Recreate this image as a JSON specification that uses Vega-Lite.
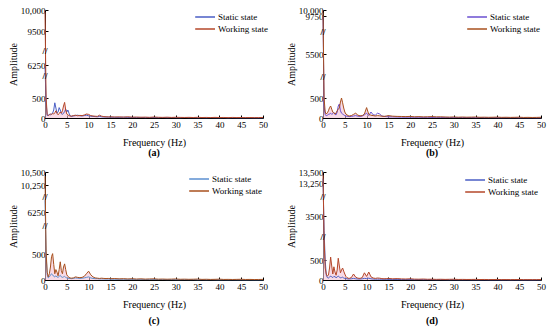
{
  "$schema": "https://vega.github.io/schema/vega-lite/v6.json",
  "background": "white",
  "padding": {"left": 8, "top": 6, "right": 2, "bottom": 2},
  "columns": 2,
  "spacing": {"row": 10, "column": 17},
  "resolve": {"scale": {"color": "independent"}, "legend": {"color": "independent"}},
  "config": {
    "font": "Liberation Serif",
    "view": {"stroke": null},
    "axis": {"labelFont": "Liberation Serif", "titleFont": "Liberation Serif", "labelFontSize": 9, "titleFontSize": 10, "titleFontWeight": "normal", "labelColor": "black", "titleColor": "black", "domainColor": "black", "tickColor": "black", "grid": false, "tickSize": -3, "labelPadding": 3, "titlePadding": 2, "labelOverlap": false},
    "axisX": {"labelFlush": false, "titlePadding": 8, "labelPadding": 5},
    "title": {"font": "Liberation Serif", "fontSize": 10, "fontWeight": "bold", "color": "black", "orient": "bottom", "offset": 1},
    "legend": {"orient": "none", "title": null, "symbolType": "M-2.3,0H1", "symbolSize": 144, "symbolStrokeWidth": 1.5, "labelFont": "Liberation Serif", "labelFontSize": 9, "labelColor": "black", "rowPadding": 0, "padding": 0, "labelOffset": 2}
  },
  "datasets": {
    "a": [
      {"f": 0, "s": 6000, "w": 9950}, {"f": 0.25, "s": 400, "w": 600}, {"f": 0.5, "s": 60, "w": 90}, {"f": 0.75, "s": 70, "w": 60},
      {"f": 1, "s": 90, "w": 80}, {"f": 1.25, "s": 80, "w": 100}, {"f": 1.5, "s": 100, "w": 90}, {"f": 1.75, "s": 120, "w": 110},
      {"f": 2, "s": 200, "w": 100}, {"f": 2.25, "s": 380, "w": 130}, {"f": 2.5, "s": 250, "w": 180}, {"f": 2.75, "s": 120, "w": 120},
      {"f": 3, "s": 150, "w": 80}, {"f": 3.25, "s": 260, "w": 110}, {"f": 3.5, "s": 200, "w": 150}, {"f": 3.75, "s": 110, "w": 120},
      {"f": 4, "s": 90, "w": 180}, {"f": 4.25, "s": 120, "w": 300}, {"f": 4.5, "s": 160, "w": 390}, {"f": 4.75, "s": 220, "w": 200},
      {"f": 5, "s": 150, "w": 100}, {"f": 5.25, "s": 200, "w": 80}, {"f": 5.5, "s": 120, "w": 60}, {"f": 5.75, "s": 60, "w": 50},
      {"f": 6, "s": 40, "w": 45}, {"f": 6.5, "s": 50, "w": 60}, {"f": 7, "s": 60, "w": 70}, {"f": 7.5, "s": 70, "w": 55},
      {"f": 8, "s": 55, "w": 65}, {"f": 8.5, "s": 50, "w": 60}, {"f": 9, "s": 60, "w": 75}, {"f": 9.5, "s": 70, "w": 100},
      {"f": 10, "s": 55, "w": 90}, {"f": 10.5, "s": 45, "w": 60}, {"f": 11, "s": 40, "w": 50}, {"f": 11.5, "s": 35, "w": 45},
      {"f": 12, "s": 30, "w": 40}, {"f": 12.5, "s": 40, "w": 70}, {"f": 13, "s": 30, "w": 45}, {"f": 13.5, "s": 25, "w": 35},
      {"f": 14, "s": 25, "w": 30}, {"f": 14.5, "s": 22, "w": 28}, {"f": 15, "s": 20, "w": 30}, {"f": 16, "s": 18, "w": 25},
      {"f": 17, "s": 15, "w": 28}, {"f": 18, "s": 20, "w": 22}, {"f": 19, "s": 14, "w": 30}, {"f": 20, "s": 16, "w": 20},
      {"f": 21, "s": 12, "w": 24}, {"f": 22, "s": 15, "w": 18}, {"f": 23, "s": 10, "w": 22}, {"f": 24, "s": 14, "w": 16},
      {"f": 25, "s": 12, "w": 25}, {"f": 26, "s": 10, "w": 18}, {"f": 27, "s": 13, "w": 15}, {"f": 28, "s": 9, "w": 20},
      {"f": 29, "s": 11, "w": 14}, {"f": 30, "s": 10, "w": 18}, {"f": 31, "s": 8, "w": 15}, {"f": 32, "s": 12, "w": 13},
      {"f": 33, "s": 9, "w": 16}, {"f": 34, "s": 10, "w": 12}, {"f": 35, "s": 8, "w": 17}, {"f": 36, "s": 9, "w": 12},
      {"f": 37, "s": 7, "w": 14}, {"f": 38, "s": 10, "w": 11}, {"f": 39, "s": 8, "w": 15}, {"f": 40, "s": 7, "w": 12},
      {"f": 41, "s": 9, "w": 13}, {"f": 42, "s": 6, "w": 10}, {"f": 43, "s": 8, "w": 14}, {"f": 44, "s": 7, "w": 11},
      {"f": 45, "s": 6, "w": 13}, {"f": 46, "s": 8, "w": 10}, {"f": 47, "s": 6, "w": 12}, {"f": 48, "s": 7, "w": 9},
      {"f": 49, "s": 5, "w": 11}, {"f": 50, "s": 6, "w": 14}
    ],
    "b": [
      {"f": 0, "s": 9700, "w": 9900}, {"f": 0.25, "s": 300, "w": 500}, {"f": 0.5, "s": 80, "w": 150}, {"f": 0.75, "s": 60, "w": 100},
      {"f": 1, "s": 70, "w": 130}, {"f": 1.25, "s": 90, "w": 180}, {"f": 1.5, "s": 100, "w": 260}, {"f": 1.75, "s": 120, "w": 300},
      {"f": 2, "s": 90, "w": 220}, {"f": 2.25, "s": 110, "w": 150}, {"f": 2.5, "s": 140, "w": 120}, {"f": 2.75, "s": 90, "w": 100},
      {"f": 3, "s": 80, "w": 130}, {"f": 3.25, "s": 150, "w": 180}, {"f": 3.5, "s": 300, "w": 220}, {"f": 3.75, "s": 350, "w": 250},
      {"f": 4, "s": 180, "w": 400}, {"f": 4.25, "s": 120, "w": 500}, {"f": 4.5, "s": 100, "w": 380}, {"f": 4.75, "s": 80, "w": 250},
      {"f": 5, "s": 60, "w": 150}, {"f": 5.25, "s": 50, "w": 100}, {"f": 5.5, "s": 45, "w": 80}, {"f": 5.75, "s": 40, "w": 60},
      {"f": 6, "s": 35, "w": 50}, {"f": 6.5, "s": 40, "w": 60}, {"f": 7, "s": 50, "w": 90}, {"f": 7.5, "s": 60, "w": 120},
      {"f": 8, "s": 45, "w": 70}, {"f": 8.5, "s": 40, "w": 55}, {"f": 9, "s": 50, "w": 60}, {"f": 9.5, "s": 80, "w": 100},
      {"f": 10, "s": 120, "w": 260}, {"f": 10.5, "s": 60, "w": 90}, {"f": 11, "s": 150, "w": 70}, {"f": 11.5, "s": 80, "w": 60},
      {"f": 12, "s": 70, "w": 50}, {"f": 12.5, "s": 120, "w": 60}, {"f": 13, "s": 100, "w": 55}, {"f": 13.5, "s": 50, "w": 45},
      {"f": 14, "s": 40, "w": 40}, {"f": 14.5, "s": 35, "w": 50}, {"f": 15, "s": 30, "w": 60}, {"f": 16, "s": 28, "w": 45},
      {"f": 17, "s": 25, "w": 40}, {"f": 18, "s": 22, "w": 38}, {"f": 19, "s": 20, "w": 35}, {"f": 20, "s": 22, "w": 40},
      {"f": 21, "s": 18, "w": 30}, {"f": 22, "s": 20, "w": 34}, {"f": 23, "s": 16, "w": 28}, {"f": 24, "s": 18, "w": 30},
      {"f": 25, "s": 15, "w": 35}, {"f": 26, "s": 17, "w": 28}, {"f": 27, "s": 14, "w": 30}, {"f": 28, "s": 15, "w": 25},
      {"f": 29, "s": 13, "w": 22}, {"f": 30, "s": 14, "w": 26}, {"f": 31, "s": 12, "w": 20}, {"f": 32, "s": 13, "w": 24},
      {"f": 33, "s": 11, "w": 20}, {"f": 34, "s": 12, "w": 22}, {"f": 35, "s": 10, "w": 25}, {"f": 36, "s": 11, "w": 18},
      {"f": 37, "s": 10, "w": 20}, {"f": 38, "s": 9, "w": 17}, {"f": 39, "s": 10, "w": 19}, {"f": 40, "s": 9, "w": 22},
      {"f": 41, "s": 8, "w": 16}, {"f": 42, "s": 9, "w": 18}, {"f": 43, "s": 8, "w": 15}, {"f": 44, "s": 9, "w": 17},
      {"f": 45, "s": 7, "w": 20}, {"f": 46, "s": 8, "w": 14}, {"f": 47, "s": 7, "w": 16}, {"f": 48, "s": 8, "w": 13},
      {"f": 49, "s": 6, "w": 15}, {"f": 50, "s": 7, "w": 18}
    ],
    "c": [
      {"f": 0, "s": 8000, "w": 10420}, {"f": 0.25, "s": 500, "w": 900}, {"f": 0.5, "s": 100, "w": 150}, {"f": 0.75, "s": 40, "w": 60},
      {"f": 1, "s": 60, "w": 120}, {"f": 1.25, "s": 90, "w": 250}, {"f": 1.5, "s": 120, "w": 450}, {"f": 1.75, "s": 100, "w": 550},
      {"f": 2, "s": 70, "w": 300}, {"f": 2.25, "s": 60, "w": 120}, {"f": 2.5, "s": 80, "w": 200}, {"f": 2.75, "s": 60, "w": 150},
      {"f": 3, "s": 50, "w": 80}, {"f": 3.25, "s": 70, "w": 200}, {"f": 3.5, "s": 90, "w": 350}, {"f": 3.75, "s": 60, "w": 180},
      {"f": 4, "s": 50, "w": 120}, {"f": 4.25, "s": 60, "w": 250}, {"f": 4.5, "s": 70, "w": 310}, {"f": 4.75, "s": 50, "w": 200},
      {"f": 5, "s": 40, "w": 100}, {"f": 5.25, "s": 35, "w": 70}, {"f": 5.5, "s": 30, "w": 50}, {"f": 5.75, "s": 30, "w": 40},
      {"f": 6, "s": 25, "w": 35}, {"f": 6.5, "s": 30, "w": 40}, {"f": 7, "s": 40, "w": 60}, {"f": 7.5, "s": 35, "w": 50},
      {"f": 8, "s": 30, "w": 45}, {"f": 8.5, "s": 35, "w": 50}, {"f": 9, "s": 40, "w": 70}, {"f": 9.5, "s": 50, "w": 120},
      {"f": 10, "s": 60, "w": 170}, {"f": 10.5, "s": 40, "w": 100}, {"f": 11, "s": 30, "w": 60}, {"f": 11.5, "s": 25, "w": 40},
      {"f": 12, "s": 25, "w": 35}, {"f": 12.5, "s": 20, "w": 30}, {"f": 13, "s": 22, "w": 35}, {"f": 13.5, "s": 20, "w": 30},
      {"f": 14, "s": 18, "w": 28}, {"f": 14.5, "s": 18, "w": 30}, {"f": 15, "s": 16, "w": 25}, {"f": 16, "s": 15, "w": 28},
      {"f": 17, "s": 14, "w": 22}, {"f": 18, "s": 15, "w": 25}, {"f": 19, "s": 12, "w": 20}, {"f": 20, "s": 13, "w": 24},
      {"f": 21, "s": 11, "w": 18}, {"f": 22, "s": 12, "w": 22}, {"f": 23, "s": 10, "w": 17}, {"f": 24, "s": 11, "w": 20},
      {"f": 25, "s": 10, "w": 22}, {"f": 26, "s": 9, "w": 16}, {"f": 27, "s": 10, "w": 18}, {"f": 28, "s": 8, "w": 15},
      {"f": 29, "s": 9, "w": 17}, {"f": 30, "s": 8, "w": 20}, {"f": 31, "s": 7, "w": 14}, {"f": 32, "s": 8, "w": 16},
      {"f": 33, "s": 7, "w": 13}, {"f": 34, "s": 8, "w": 15}, {"f": 35, "s": 6, "w": 18}, {"f": 36, "s": 7, "w": 12},
      {"f": 37, "s": 6, "w": 14}, {"f": 38, "s": 7, "w": 11}, {"f": 39, "s": 6, "w": 13}, {"f": 40, "s": 5, "w": 16},
      {"f": 41, "s": 6, "w": 11}, {"f": 42, "s": 5, "w": 12}, {"f": 43, "s": 6, "w": 10}, {"f": 44, "s": 5, "w": 12},
      {"f": 45, "s": 5, "w": 14}, {"f": 46, "s": 4, "w": 10}, {"f": 47, "s": 5, "w": 11}, {"f": 48, "s": 4, "w": 9},
      {"f": 49, "s": 4, "w": 10}, {"f": 50, "s": 5, "w": 12}
    ],
    "d": [
      {"f": 0, "s": 13350, "w": 13430}, {"f": 0.25, "s": 2500, "w": 2000}, {"f": 0.5, "s": 500, "w": 300}, {"f": 0.75, "s": 120, "w": 150},
      {"f": 1, "s": 60, "w": 100}, {"f": 1.25, "s": 50, "w": 120}, {"f": 1.5, "s": 70, "w": 300}, {"f": 1.75, "s": 100, "w": 700},
      {"f": 2, "s": 80, "w": 350}, {"f": 2.25, "s": 60, "w": 150}, {"f": 2.5, "s": 90, "w": 330}, {"f": 2.75, "s": 80, "w": 200},
      {"f": 3, "s": 60, "w": 120}, {"f": 3.25, "s": 70, "w": 250}, {"f": 3.5, "s": 100, "w": 620}, {"f": 3.75, "s": 80, "w": 350},
      {"f": 4, "s": 50, "w": 180}, {"f": 4.25, "s": 60, "w": 250}, {"f": 4.5, "s": 70, "w": 300}, {"f": 4.75, "s": 50, "w": 220},
      {"f": 5, "s": 40, "w": 150}, {"f": 5.25, "s": 35, "w": 90}, {"f": 5.5, "s": 30, "w": 60}, {"f": 5.75, "s": 25, "w": 45},
      {"f": 6, "s": 25, "w": 40}, {"f": 6.5, "s": 30, "w": 60}, {"f": 7, "s": 40, "w": 150}, {"f": 7.5, "s": 30, "w": 70},
      {"f": 8, "s": 25, "w": 45}, {"f": 8.5, "s": 25, "w": 40}, {"f": 9, "s": 30, "w": 60}, {"f": 9.5, "s": 40, "w": 180},
      {"f": 10, "s": 35, "w": 90}, {"f": 10.5, "s": 45, "w": 200}, {"f": 11, "s": 30, "w": 80}, {"f": 11.5, "s": 25, "w": 50},
      {"f": 12, "s": 20, "w": 40}, {"f": 12.5, "s": 22, "w": 50}, {"f": 13, "s": 20, "w": 45}, {"f": 13.5, "s": 18, "w": 35},
      {"f": 14, "s": 18, "w": 30}, {"f": 14.5, "s": 16, "w": 35}, {"f": 15, "s": 15, "w": 40}, {"f": 16, "s": 14, "w": 30},
      {"f": 17, "s": 13, "w": 35}, {"f": 18, "s": 12, "w": 28}, {"f": 19, "s": 12, "w": 25}, {"f": 20, "s": 11, "w": 30},
      {"f": 21, "s": 10, "w": 22}, {"f": 22, "s": 11, "w": 20}, {"f": 23, "s": 9, "w": 24}, {"f": 24, "s": 10, "w": 18},
      {"f": 25, "s": 9, "w": 20}, {"f": 26, "s": 8, "w": 16}, {"f": 27, "s": 9, "w": 18}, {"f": 28, "s": 8, "w": 15},
      {"f": 29, "s": 7, "w": 17}, {"f": 30, "s": 8, "w": 19}, {"f": 31, "s": 7, "w": 14}, {"f": 32, "s": 6, "w": 15},
      {"f": 33, "s": 7, "w": 13}, {"f": 34, "s": 6, "w": 14}, {"f": 35, "s": 6, "w": 16}, {"f": 36, "s": 5, "w": 12},
      {"f": 37, "s": 6, "w": 13}, {"f": 38, "s": 5, "w": 11}, {"f": 39, "s": 5, "w": 12}, {"f": 40, "s": 5, "w": 14},
      {"f": 41, "s": 4, "w": 10}, {"f": 42, "s": 5, "w": 11}, {"f": 43, "s": 4, "w": 10}, {"f": 44, "s": 5, "w": 11},
      {"f": 45, "s": 4, "w": 12}, {"f": 46, "s": 4, "w": 9}, {"f": 47, "s": 4, "w": 10}, {"f": 48, "s": 3, "w": 9},
      {"f": 49, "s": 4, "w": 10}, {"f": 50, "s": 4, "w": 11}
    ]
  },
  "concat": [
    {
      "width": 218, "height": 108,
      "title": {"text": "(a)", "offset": 1},
      "encoding": {"x": {"field": "f", "type": "quantitative", "title": "Frequency (Hz)", "scale": {"domain": [0, 50], "nice": false}, "axis": {"values": [0, 5, 10, 15, 20, 25, 30, 35, 40, 45, 50], "tickCount": 20, "labelOverlap": false}}},
      "layer": [
        {"data": {"name": "a"}, "mark": {"type": "area", "color": "#f4c2d4", "opacity": 0.6},
         "encoding": {"y": {"field": "w", "type": "quantitative", "title": "Amplitude", "scale": {"domain": [0, 500, 6250, 9500, 10000], "range": [108, 88, 55, 21, 0], "nice": false, "zero": false, "clamp": true}, "axis": {"values": [0, 500, 6250, 9500, 10000], "tickCount": 20, "labelOverlap": false, "labelExpr": "datum.value >= 10000 ? format(datum.value, ',') : '' + datum.value"}}}},
        {"data": {"name": "a"}, "transform": [{"fold": ["s", "w"], "as": ["k", "amp"]}], "mark": {"type": "line", "strokeWidth": 1},
         "encoding": {"y": {"field": "amp", "type": "quantitative", "title": "Amplitude"},
           "color": {"field": "k", "type": "nominal", "scale": {"domain": ["s", "w"], "range": ["#4a5ec4", "#b5472a"]}, "legend": {"legendX": 157, "legendY": 0, "labelExpr": "datum.label == 's' ? 'Static state' : 'Working state'"}}}},
        {"data": {"values": [{"f": 0, "y": 7600}, {"f": 0, "y": 4333}]}, "mark": {"type": "text", "text": "//", "fontSize": 9, "fontWeight": "bold", "color": "black"},
         "encoding": {"y": {"field": "y", "type": "quantitative", "title": "Amplitude"}}}
      ]
    },
    {
      "width": 218, "height": 108,
      "title": {"text": "(b)", "offset": 1},
      "encoding": {"x": {"field": "f", "type": "quantitative", "title": "Frequency (Hz)", "scale": {"domain": [0, 50], "nice": false}, "axis": {"values": [0, 5, 10, 15, 20, 25, 30, 35, 40, 45, 50], "tickCount": 20, "labelOverlap": false}}},
      "layer": [
        {"data": {"name": "b"}, "mark": {"type": "area", "color": "#f4c2d4", "opacity": 0.6},
         "encoding": {"y": {"field": "w", "type": "quantitative", "title": "Amplitude", "scale": {"domain": [0, 500, 5500, 9750, 10000], "range": [108, 88, 44, 6, 0], "nice": false, "zero": false, "clamp": true}, "axis": {"values": [0, 500, 5500, 9750, 10000], "tickCount": 20, "labelOverlap": false, "labelExpr": "datum.value >= 10000 ? format(datum.value, ',') : '' + datum.value"}}}},
        {"data": {"name": "b"}, "transform": [{"fold": ["s", "w"], "as": ["k", "amp"]}], "mark": {"type": "line", "strokeWidth": 1},
         "encoding": {"y": {"field": "amp", "type": "quantitative", "title": "Amplitude"},
           "color": {"field": "k", "type": "nominal", "scale": {"domain": ["s", "w"], "range": ["#6a4fd0", "#a8501e"]}, "legend": {"legendX": 151, "legendY": 0, "labelExpr": "datum.label == 's' ? 'Static state' : 'Working state'"}}}},
        {"data": {"values": [{"f": 0, "y": 7961}, {"f": 0, "y": 2886}]}, "mark": {"type": "text", "text": "//", "fontSize": 9, "fontWeight": "bold", "color": "black"},
         "encoding": {"y": {"field": "y", "type": "quantitative", "title": "Amplitude"}}}
      ]
    },
    {
      "width": 218, "height": 108,
      "title": {"text": "(c)", "offset": 7},
      "encoding": {"x": {"field": "f", "type": "quantitative", "title": "Frequency (Hz)", "scale": {"domain": [0, 50], "nice": false}, "axis": {"values": [0, 5, 10, 15, 20, 25, 30, 35, 40, 45, 50], "tickCount": 20, "labelOverlap": false}}},
      "layer": [
        {"data": {"name": "c"}, "mark": {"type": "area", "color": "#f4c2d4", "opacity": 0.6},
         "encoding": {"y": {"field": "w", "type": "quantitative", "title": "Amplitude", "scale": {"domain": [0, 500, 6250, 10250, 10500], "range": [108, 82, 40, 13, 0], "nice": false, "zero": false, "clamp": true}, "axis": {"values": [0, 500, 6250, 10250, 10500], "tickCount": 20, "labelOverlap": false, "labelExpr": "datum.value >= 10000 ? format(datum.value, ',') : '' + datum.value"}}}},
        {"data": {"name": "c"}, "transform": [{"fold": ["s", "w"], "as": ["k", "amp"]}], "mark": {"type": "line", "strokeWidth": 1},
         "encoding": {"y": {"field": "amp", "type": "quantitative", "title": "Amplitude"},
           "color": {"field": "k", "type": "nominal", "scale": {"domain": ["s", "w"], "range": ["#5b8fd0", "#a8501e"]}, "legend": {"legendX": 151, "legendY": 0, "labelExpr": "datum.label == 's' ? 'Static state' : 'Working state'"}}}},
        {"data": {"values": [{"f": 0, "y": 8472}, {"f": 0, "y": 4333}]}, "mark": {"type": "text", "text": "//", "fontSize": 9, "fontWeight": "bold", "color": "black"},
         "encoding": {"y": {"field": "y", "type": "quantitative", "title": "Amplitude"}}}
      ]
    },
    {
      "width": 218, "height": 108,
      "title": {"text": "(d)", "offset": 7},
      "encoding": {"x": {"field": "f", "type": "quantitative", "title": "Frequency (Hz)", "scale": {"domain": [0, 50], "nice": false}, "axis": {"values": [0, 5, 10, 15, 20, 25, 30, 35, 40, 45, 50], "tickCount": 20, "labelOverlap": false}}},
      "layer": [
        {"data": {"name": "d"}, "mark": {"type": "area", "color": "#f4c2d4", "opacity": 0.6},
         "encoding": {"y": {"field": "w", "type": "quantitative", "title": "Amplitude", "scale": {"domain": [0, 500, 3500, 13250, 13500], "range": [108, 88, 44, 11, 0], "nice": false, "zero": false, "clamp": true}, "axis": {"values": [0, 500, 3500, 13250, 13500], "tickCount": 20, "labelOverlap": false, "labelExpr": "datum.value >= 10000 ? format(datum.value, ',') : '' + datum.value"}}}},
        {"data": {"name": "d"}, "transform": [{"fold": ["s", "w"], "as": ["k", "amp"]}], "mark": {"type": "line", "strokeWidth": 1},
         "encoding": {"y": {"field": "amp", "type": "quantitative", "title": "Amplitude"},
           "color": {"field": "k", "type": "nominal", "scale": {"domain": ["s", "w"], "range": ["#4a5ec4", "#b5472a"]}, "legend": {"legendX": 149, "legendY": 1, "labelExpr": "datum.label == 's' ? 'Static state' : 'Working state'"}}}},
        {"data": {"values": [{"f": 0, "y": 9114}, {"f": 0, "y": 2068}]}, "mark": {"type": "text", "text": "//", "fontSize": 9, "fontWeight": "bold", "color": "black"},
         "encoding": {"y": {"field": "y", "type": "quantitative", "title": "Amplitude"}}}
      ]
    }
  ]
}
